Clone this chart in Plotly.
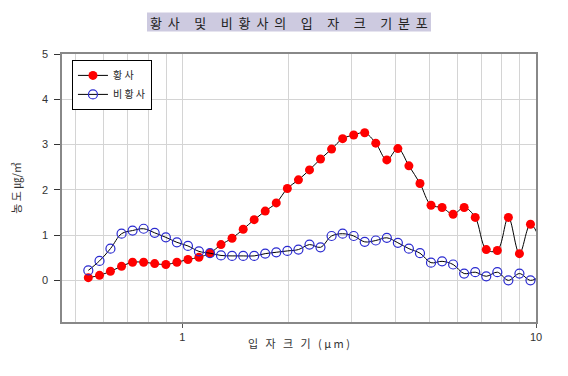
import plotly.graph_objects as go

# APS channel mid-point diameters (um)
diam = [0.542, 0.583, 0.626, 0.673, 0.723, 0.777, 0.835, 0.898, 0.965, 1.037,
        1.114, 1.197, 1.286, 1.382, 1.486, 1.596, 1.715, 1.843, 1.981, 2.129,
        2.288, 2.458, 2.642, 2.839, 3.051, 3.278, 3.523, 3.786, 4.068, 4.371,
        4.698, 5.048, 5.425, 5.829, 6.264, 6.732, 7.234, 7.774, 8.354, 8.977,
        9.647, 10.37]

hwangsa = [0.06, 0.11, 0.20, 0.31, 0.40, 0.40, 0.37, 0.35, 0.40, 0.46,
           0.51, 0.60, 0.79, 0.93, 1.13, 1.34, 1.53, 1.71, 2.03, 2.22,
           2.44, 2.68, 2.90, 3.13, 3.21, 3.26, 3.03, 2.66, 2.91, 2.53,
           2.14, 1.66, 1.61, 1.46, 1.61, 1.39, 0.68, 0.66, 1.39, 0.59,
           1.24, 0.82]

bihwangsa = [0.22, 0.43, 0.70, 1.03, 1.10, 1.14, 1.05, 0.95, 0.84, 0.76,
             0.64, 0.60, 0.55, 0.54, 0.54, 0.54, 0.59, 0.62, 0.65, 0.68,
             0.79, 0.73, 0.98, 1.03, 0.98, 0.85, 0.88, 0.94, 0.83, 0.70,
             0.60, 0.39, 0.42, 0.35, 0.15, 0.18, 0.09, 0.18, 0.00, 0.15,
             0.00, 0.11]

series_names = ["황\u00a0사", "비\u00a0황\u00a0사"]
S = "\u00a0\u00a0"          # gap inside a word
W = "\u00a0" * 5            # gap between words
title_text = ("황" + S + "사" + W + "및" + W + "비" + S + "황" + S + "사" + S + "의" + W +
              "입" + W + "자" + W + "크" + W + "기" + S + "분" + S + "포")
x_title = "입\u00a0\u00a0\u00a0자\u00a0\u00a0\u00a0크\u00a0\u00a0\u00a0기\u00a0\u00a0\u00a0(\u00a0μ\u00a0m\u00a0)"
y_title = "농\u00a0도\u00a0㎍/㎥"
x_major = [1, 10]
x_minor = [0.5, 0.6, 0.7, 0.8, 0.9, 2, 3, 4, 5, 6, 7, 8, 9]
y_ticks = [0, 1, 2, 3, 4, 5]

KR = "Noto Sans CJK KR"
NUM = "Liberation Sans, Arial"

fig = go.Figure()
fig.add_trace(go.Scatter(
    x=diam, y=hwangsa, name=series_names[0], mode="lines+markers",
    line=dict(color="black", width=1, shape="spline", smoothing=1.0),
    marker=dict(symbol="circle", size=9, color="#ff0000", line=dict(width=0)),
))
fig.add_trace(go.Scatter(
    x=diam, y=bihwangsa, name=series_names[1], mode="lines+markers",
    line=dict(color="black", width=1, shape="spline", smoothing=1.0),
    marker=dict(symbol="circle-open", size=9, color="#2a2ad0", line=dict(width=1.2)),
))

fig.update_layout(
    width=568, height=376, autosize=False,
    margin=dict(l=62, r=32, t=54, b=54),
    paper_bgcolor="white", plot_bgcolor="white",
    showlegend=True,
    legend=dict(x=0.021, y=0.978, xanchor="left", yanchor="top",
                bordercolor="black", borderwidth=1, bgcolor="white",
                font=dict(family=KR, size=10, color="#222"),
                itemwidth=30, tracegroupgap=0),
    font=dict(family=NUM, size=11, color="#333"),
)

fig.update_xaxes(
    type="log", range=[-0.3404, 1.0],
    tickvals=x_major, ticktext=["1", "10"],
    ticks="outside", ticklen=4, tickcolor="#555",
    showgrid=True, gridcolor="#d4d4d4", gridwidth=1,
    minor=dict(tickvals=x_minor, showgrid=True, gridcolor="#d4d4d4", ticks=""),
    showline=True, linecolor="#888", linewidth=1.5, mirror=True,
    zeroline=False,
    tickfont=dict(family=NUM, size=11, color="#333"),
)
fig.update_yaxes(
    range=[-0.92, 5.0],
    tickvals=y_ticks,
    ticks="outside", ticklen=6, tickcolor="#333",
    ticklabelstandoff=4,
    showgrid=True, gridcolor="#d4d4d4", gridwidth=1,
    showline=True, linecolor="#888", linewidth=1.5, mirror=True,
    zeroline=False,
    tickfont=dict(family=NUM, size=11, color="#333"),
    title=dict(text=y_title, font=dict(family=KR, size=11, color="#333"), standoff=18),
)

# x-axis title
fig.add_annotation(text=x_title, xref="paper", yref="paper",
                   x=0.5, y=(322 - 343) / 268,
                   showarrow=False, xanchor="center", yanchor="middle",
                   font=dict(family=KR, size=11, color="#333"))

# Title box
fig.add_shape(type="rect", xref="paper", yref="paper",
              x0=(147 - 62) / 474, x1=(431 - 62) / 474,
              y0=(322 - 31.5) / 268, y1=(322 - 12.5) / 268,
              fillcolor="#cdcae0", line=dict(width=0), layer="below")
fig.add_annotation(text=title_text, xref="paper", yref="paper",
                   x=(289 - 62) / 474, y=(322 - 22) / 268,
                   showarrow=False, xanchor="center", yanchor="middle",
                   font=dict(family=KR, size=13, color="#222"))

fig.write_html("out.html", config={"displayModeBar": False},
               post_script="document.body.style.margin='0';")
